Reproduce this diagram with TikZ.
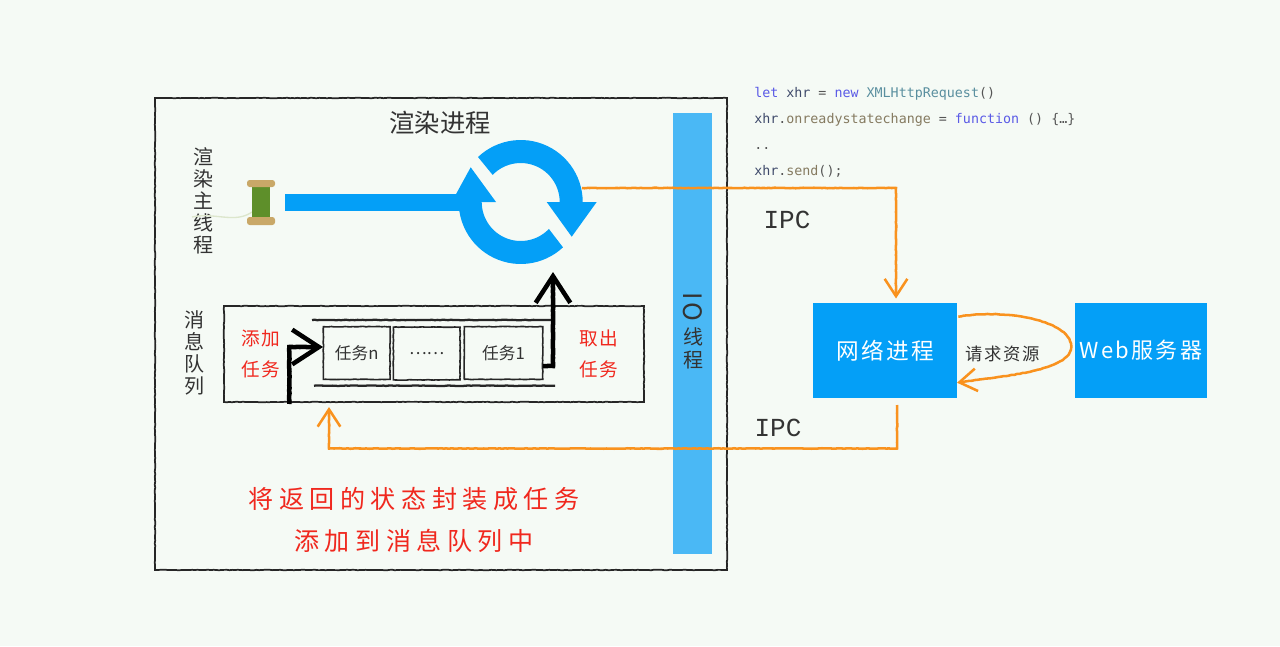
\documentclass[tikz,border=0pt]{standalone}
\usepackage{fontspec}
\usetikzlibrary{arrows.meta,decorations.pathmorphing}
\newfontfamily\cjk{Noto Sans CJK SC}
\newfontfamily\cjkwide[LetterSpace=10]{Noto Sans CJK SC}
\newfontfamily\cjkwider[LetterSpace=22]{Noto Sans CJK SC}
\newfontfamily\codefont{DejaVu Sans Mono}
\newfontfamily\ipcfont{Liberation Mono}
\definecolor{pagebg}{HTML}{F5FAF5}
\definecolor{procblue}{HTML}{049FF7}
\definecolor{iobar}{HTML}{4AB8F5}
\definecolor{ipcorange}{HTML}{F9921E}
\definecolor{taskred}{HTML}{F0281E}
\definecolor{inkgray}{HTML}{333333}
\definecolor{codeblue}{HTML}{5A5AE6}
\definecolor{codeteal}{HTML}{5A8F9F}
\definecolor{codevar}{HTML}{3F4A6B}
\definecolor{codeprop}{HTML}{857A60}
\definecolor{codeplain}{HTML}{555555}
\definecolor{spoolwood}{HTML}{C9A868}
\definecolor{spoolgreen}{HTML}{5E8F2A}
\definecolor{spoolthread}{HTML}{DCE6CC}
\tikzset{
  rough/.style={decorate,decoration={random steps,segment length=2pt,amplitude=.2pt,post length=7pt}},
  frameline/.style={draw=black!85,line width=1.3pt,rough},
  rail/.style={draw=black!85,line width=1.7pt,rough},
  taskbox/.style={draw=black!85,line width=1.2pt,rough,minimum height=39.5pt,inner sep=0pt,font=\cjk\fontsize{12.5}{12.5}\selectfont,text=inkgray},
  procbox/.style={fill=procblue,draw=none,minimum height=71.5pt,inner sep=0pt,text=white},
  redlabel/.style={align=center,text=taskred,font=\cjkwide\fontsize{14}{23}\selectfont},
  stacklabel/.style={align=center,text=inkgray,font=\cjk\fontsize{15}{16.5}\selectfont},
  ipclabel/.style={text=inkgray,font=\ipcfont\fontsize{19.5}{19.5}\selectfont},
  codeline/.style={anchor=base west,inner sep=0pt,text=codeplain,font=\codefont\fontsize{10}{10}\selectfont},
  ipcline/.style={draw=ipcorange,line width=1.9pt,rough,-{Straight Barb[length=13pt,width=17pt,line width=1.9pt]}},
  feedline/.style={draw=black,line width=3.4pt,rough,-{Straight Barb[length=20pt,width=26pt,line width=3.4pt]}}
}
\pgfmathsetseed{7}
\begin{document}
\begin{tikzpicture}[x=.75pt,y=-.75pt]
\path[use as bounding box,fill=pagebg] (0,0) rectangle (1280,646);
% renderer frame
\path[frameline] (155,98) rectangle (727,570);
\fill[iobar] (673,113) rectangle (712,554);
\node[text=inkgray,font=\cjk\fontsize{19}{19}\selectfont] (rendertitle) at (440,123) {渲染进程};
\node[stacklabel] (mainthread) at (203,201) {渲\\染\\主\\线\\程};
% IO thread label
\node[text=inkgray,rotate=-90,font=\cjkwide\fontsize{19}{19}\selectfont] (iolabel) at (693,307) {IO};
\node[stacklabel,font=\cjk\fontsize{15}{17}\selectfont] (iothread) at (693,348.5) {线\\程};
% spool
\draw[draw=spoolthread,line width=1pt] (252,212) .. controls (235,224) and (215,212) .. (192,217);
\fill[spoolgreen] (252,186) rectangle (270,218);
\fill[rounded corners=2pt,spoolwood] (247,180) rectangle (275,187);
\fill[rounded corners=2pt,spoolwood] (247,217) rectangle (275,225);
% main thread bar
\fill[procblue] (285,194) rectangle (462,211);
% event loop
\coordinate (sync) at (520.7,202);
\fill[procblue] plot[domain=-133.5:0,samples=30] ({520.7+62*cos(\x)},{202+62*sin(\x)}) -- (596.7,202) -- (571.7,236.7) -- (546.7,202) -- plot[domain=0:-136,samples=30] ({520.7+39*cos(\x)},{202+39*sin(\x)}) -- cycle;
\fill[procblue] plot[domain=47:180,samples=30] ({520.7+62*cos(\x)},{202+62*sin(\x)}) -- (451.7,202) -- (470.7,167.3) -- (496,202) -- plot[domain=180:43.7,samples=30] ({520.7+39*cos(\x)},{202+39*sin(\x)}) -- cycle;
% message queue
\path[frameline] (224,306) rectangle (644,402);
\node[stacklabel] (queue) at (194,353) {消\\息\\队\\列};
\draw[rail] (312,320) -- (553,320);
\draw[rail] (314,385.7) -- (555,385.7);
\node[taskbox,minimum width=50pt] (taskn) at (356.7,353) {任务n};
\node[taskbox,minimum width=50pt] (taskdots) at (426.7,353.5) {……};
\node[taskbox,minimum width=58.8pt] (taskone) at (503.5,353) {任务1};
\node[redlabel] (addtask) at (261,354) {添加\\任务};
\node[redlabel] (taketask) at (599,354) {取出\\任务};
% in and out of the queue
\coordinate (addstart) at (289.3,404);
\coordinate (addtip) at (323,347);
\coordinate (takestart) at (543,366);
\coordinate (takebend) at (553,366);
\coordinate (taketip) at (553,272);
\draw[feedline] (addstart) |- (addtip);
\draw[feedline] (takestart) -- (takebend) -- (taketip);
% processes
\node[procbox,minimum width=108.5pt,font=\cjkwide\fontsize{17}{17}\selectfont] (net) at (885,350.3) {网络进程};
\node[procbox,minimum width=99.5pt,font=\cjkwide\fontsize{16.5}{16.5}\selectfont] (web) at (1141,350.3) {Web服务器};
\node[text=inkgray,font=\cjkwide\fontsize{13}{13}\selectfont] (fetch) at (1003,354) {请求资源};
% IPC connectors
\coordinate (syncout) at (582,188);
\coordinate (netin) at (896,298.5);
\coordinate (netout) at (897,405);
\coordinate (ipcturn) at (329,448.5);
\coordinate (queuein) at (329,407);
\coordinate (fetchout) at (958.3,316.7);
\coordinate (fetchmid) at (1071,347);
\coordinate (fetchin) at (957,382.7);
\draw[ipcline] (syncout) -| (netin);
\draw[ipcline] (netout) |- (ipcturn) -- (queuein);
\draw[ipcline] (fetchout) .. controls (1010,308) and (1072,322) .. (fetchmid) .. controls (1070,372) and (1000,376) .. (fetchin);
\node[ipclabel] (ipcup) at (787,220) {IPC};
\node[ipclabel] (ipcdown) at (778,428) {IPC};
% result note
\node[text=taskred,font=\cjkwider\fontsize{18.8}{18.8}\selectfont] (note) at (414,499) {将返回的状态封装成任务};
\node[text=taskred,font=\cjkwider\fontsize{18.8}{18.8}\selectfont] (notetwo) at (414,541) {添加到消息队列中};
% request code
\node[codeline] (codea) at (754,97.5) {\textcolor{codeblue}{let} \textcolor{codevar}{xhr} = \textcolor{codeblue}{new} \textcolor{codeteal}{XMLHttpRequest}()};
\node[codeline] (codeb) at (754,123.5) {\textcolor{codevar}{xhr}.\textcolor{codeprop}{onreadystatechange} = \textcolor{codeblue}{function} () \{…\}};
\node[codeline] (codec) at (754,149.5) {..};
\node[codeline] (coded) at (754,175.5) {\textcolor{codevar}{xhr}.\textcolor{codeprop}{send}();};
\end{tikzpicture}
\end{document}
